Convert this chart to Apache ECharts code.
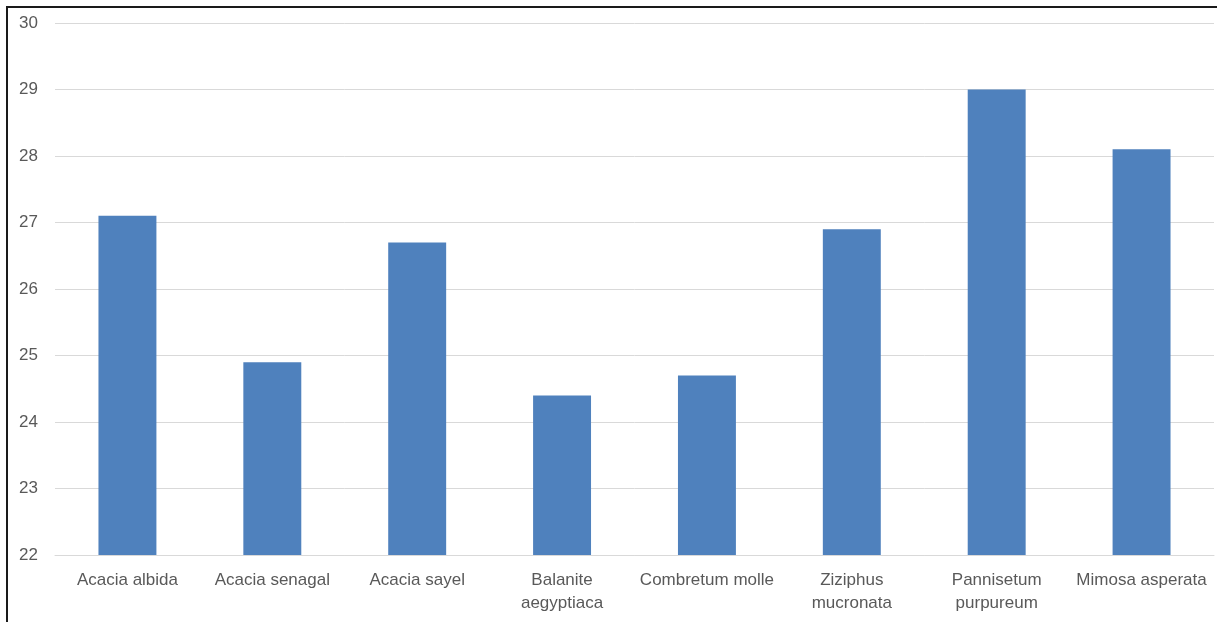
<!DOCTYPE html>
<html>
<head>
<meta charset="utf-8">
<script src="https://cdn.jsdelivr.net/npm/echarts@6/dist/echarts.min.js"></script>
<style>
  html, body { margin: 0; padding: 0; background: #fff; }
  #chart { width: 1217px; height: 622px; }
</style>
</head>
<body>
<div id="chart"></div>
<script>
// Species names along the category axis
const species = [
  'Acacia albida', 'Acacia senagal', 'Acacia sayel', 'Balanite aegyptiaca',
  'Combretum molle', 'Ziziphus mucronata', 'Pannisetum purpureum', 'Mimosa asperata'
];
// Measured value per species
const values = [27.1, 24.9, 26.7, 24.4, 24.7, 26.9, 29.0, 28.1];
// Value axis range and step
const yMin = 22;
const yMax = 30;
const yStep = 1;

const chart = echarts.init(document.getElementById('chart'), null, { renderer: 'canvas' });

chart.setOption({
  animation: false,
  backgroundColor: '#ffffff',
  grid: { left: 55, right: 3, top: 23, bottom: 67, containLabel: false },
  graphic: [
    { type: 'line', shape: { x1: 7, y1: 7, x2: 7, y2: 622 }, style: { stroke: '#1a1a1a', lineWidth: 2 } },
    { type: 'line', shape: { x1: 6, y1: 7, x2: 1217, y2: 7 }, style: { stroke: '#1a1a1a', lineWidth: 2 } }
  ],
  xAxis: {
    type: 'category',
    data: species,
    axisLine: { show: true, lineStyle: { color: '#d9d9d9', width: 1 } },
    axisTick: { show: false },
    axisLabel: {
      color: '#595959',
      fontFamily: 'Liberation Sans, Arial, sans-serif',
      fontSize: 17,
      lineHeight: 23,
      margin: 14,
      interval: 0,
      formatter: function (name) {
        return name.length > 16 ? name.replace(' ', '\n') : name;
      }
    }
  },
  yAxis: {
    type: 'value',
    min: yMin,
    max: yMax,
    interval: yStep,
    axisLine: { show: false },
    axisTick: { show: false },
    splitLine: { lineStyle: { color: '#d9d9d9', width: 1 } },
    axisLabel: {
      color: '#595959',
      fontFamily: 'Liberation Sans, Arial, sans-serif',
      fontSize: 17,
      margin: 17
    }
  },
  series: [{
    type: 'bar',
    data: values,
    barCategoryGap: '60%',
    itemStyle: { color: '#4f81bd' }
  }]
});
</script>
</body>
</html>
